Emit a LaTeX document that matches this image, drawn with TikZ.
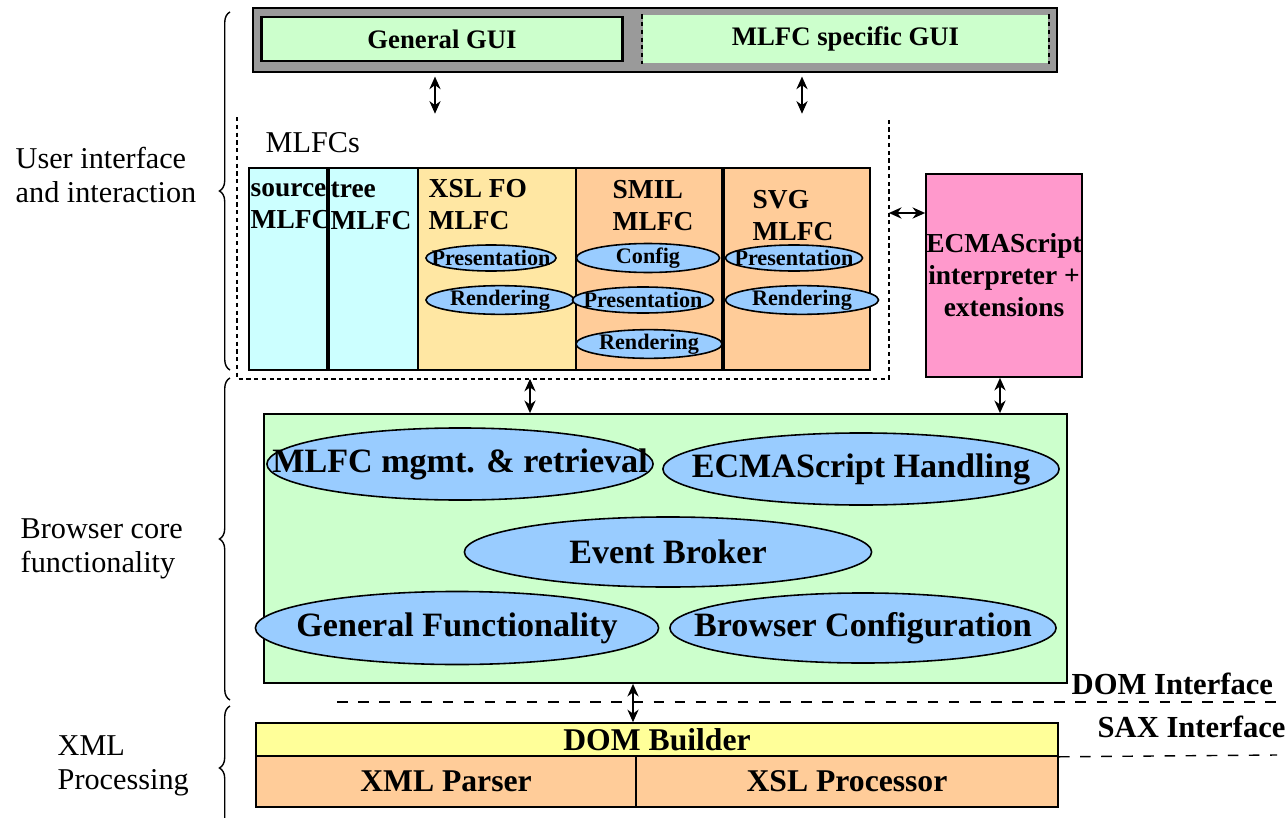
\documentclass[tikz,border=0pt]{standalone}
\usepackage{fontspec}
\setmainfont{Liberation Serif}
\usepackage{xcolor}
\usetikzlibrary{shapes,arrows.meta,decorations.pathreplacing}
\definecolor{guigrey}{HTML}{9A9A9A}
\definecolor{paleg}{HTML}{CCFFCC}
\definecolor{palec}{HTML}{CCFFFF}
\definecolor{paley}{HTML}{FFE7A3}
\definecolor{peach}{HTML}{FFCC99}
\definecolor{pink}{HTML}{FF99CC}
\definecolor{ellblue}{HTML}{99CCFF}
\definecolor{lemon}{HTML}{FFFF99}
\newcommand\guifont{\bfseries\fontsize{7.6}{9}\selectfont}
\newcommand\ttlfont{\bfseries\fontsize{7.8}{9.1}\selectfont}
\newcommand\corefont{\bfseries\fontsize{9.7}{11}\selectfont}
\newcommand\xmlfont{\bfseries\fontsize{9}{10}\selectfont}
\tikzset{blk/.style={rectangle,draw,line width=0.45pt,inner sep=0pt},
  col/.style={blk,minimum height=2.02cm},
  sub/.style={ellipse,draw,line width=0.45pt,fill=ellblue,inner xsep=-2cm,inner ysep=0pt,minimum height=0.26cm,font=\bfseries\fontsize{6.3}{7}\selectfont},
  bigell/.style={ellipse,draw,line width=0.45pt,fill=ellblue,inner xsep=-3cm,inner ysep=0pt,font=\corefont},
  ttl/.style={anchor=west,align=left,inner sep=0pt,font=\ttlfont},
  sidelbl/.style={anchor=west,align=left,inner sep=0pt,font=\fontsize{8.6}{9.8}\selectfont},
  brc/.style={decorate,decoration={brace,amplitude=3pt},line width=0.4pt},
  dots/.style={dash pattern=on 1.2pt off 1pt,line width=0.5pt}}

\begin{document}
\begin{tikzpicture}[x=0.01cm,y=-0.01cm,>={Stealth[length=3.6pt,width=3.2pt]}]
    \useasboundingbox (0,0) rectangle (1287,818);

    \node[blk,fill=guigrey,line width=0.6pt,minimum width=8.04cm,minimum height=0.64cm] (gui) at (655,40) {};
    \node[blk,fill=paleg,line width=0.8pt,minimum width=3.60cm,minimum height=0.44cm,font=\guifont] (ggui) at (442,39) {General GUI};
    \node[rectangle,fill=paleg,minimum width=4.05cm,minimum height=0.44cm,font=\guifont] (sgui) at (845.5,39) {MLFC specific GUI};
    \draw[dots] (sgui.north west) -- (sgui.south west) (sgui.north east) -- (sgui.south east);

    \node[rectangle,inner sep=0pt,minimum width=6.50cm,minimum height=2.60cm] (mlfcs) at (563,248) {};
    \draw[dots] (mlfcs.north west) |- (mlfcs.south east) -- (mlfcs.north east);
    \node[sidelbl] (mlfcl) at (265,143) {MLFCs};

    \node[col,fill=palec,minimum width=0.78cm] (src) at (288,269) {};
    \node[col,fill=palec,minimum width=0.91cm] (tree) at (372.5,269) {};
    \node[col,fill=paley,minimum width=1.58cm] (xslfo) at (497,269) {};
    \node[col,fill=peach,minimum width=1.46cm] (smil) at (649,269) {};
    \node[col,fill=peach,minimum width=1.48cm] (svg) at (796,269) {};
    \draw[line width=1pt] (src.north east) -- (src.south east);
    \draw[line width=1pt] (smil.north east) -- (smil.south east);

    \node[ttl] (srct) at (250,206) {source\\MLFC};
    \node[ttl] (treet) at (330,206) {tree\\MLFC};
    \node[ttl] (xslfot) at (428,205) {XSL FO\\MLFC};
    \node[ttl] (smilt) at (612,206) {SMIL\\MLFC};
    \node[ttl] (svgt) at (752,216) {SVG\\MLFC};

    \node[sub,minimum width=1.30cm] (xp) at (491,258) {Presentation};
    \node[sub,minimum width=1.48cm] (xr) at (500,300) {Rendering};
    \node[sub,minimum width=1.43cm] (sc) at (648,258) {Config};
    \node[sub,minimum width=1.41cm] (sp) at (643,300) {Presentation};
    \node[sub,minimum width=1.46cm] (sr) at (649,344) {Rendering};
    \node[sub,minimum width=1.37cm] (vp) at (794,258) {Presentation};
    \node[sub,minimum width=1.53cm] (vr) at (802,300) {Rendering};

    \node[blk,fill=pink,minimum width=1.56cm,minimum height=2.03cm,align=center,font=\ttlfont] (ecma) at (1004,275.5) {ECMAScript\\interpreter +\\extensions};

    \node[blk,fill=paleg,minimum width=8.03cm,minimum height=2.69cm] (core) at (665.5,548.5) {};
    \node[bigell,minimum width=3.86cm,minimum height=0.72cm] (mgmt) at (460,464) {MLFC mgmt. \& retrieval};
    \node[bigell,minimum width=3.96cm,minimum height=0.72cm] (ecmah) at (861,469) {ECMAScript Handling};
    \node[bigell,minimum width=4.07cm,minimum height=0.70cm] (broker) at (668,552) {Event Broker};
    \node[bigell,minimum width=4.03cm,minimum height=0.73cm] (genf) at (457,628) {General Functionality};
    \node[bigell,minimum width=3.86cm,minimum height=0.70cm] (bconf) at (863,628) {Browser Configuration};

    \node[blk,fill=lemon,minimum width=8.02cm,minimum height=0.33cm,font=\xmlfont] (domb) at (657,739.5) {DOM Builder};
    \node[blk,fill=peach,minimum width=3.80cm,minimum height=0.51cm,font=\xmlfont] (xmlp) at (446,781.5) {XML Parser};
    \node[blk,fill=peach,minimum width=4.22cm,minimum height=0.51cm,font=\xmlfont] (xslp) at (847,781.5) {XSL Processor};

    \node[anchor=west,inner sep=0pt,font=\bfseries\fontsize{8.7}{10}\selectfont] (domi) at (1071,684) {DOM Interface};
    \node[anchor=west,inner sep=0pt,font=\bfseries\fontsize{8.7}{10}\selectfont] (saxi) at (1097,727) {SAX Interface};

    \node[sidelbl] (uil) at (15,175) {User interface\\and interaction};
    \node[sidelbl] (bcl) at (20,549) {Browser core\\functionality};
    \node[sidelbl] (xpl) at (57,766) {XML\\Processing};

    \coordinate (a1) at (435,0);
    \coordinate (a2) at (802,0);
    \coordinate (a3) at (0,213);
    \coordinate (a4) at (530,0);
    \coordinate (a5) at (1000,0);
    \coordinate (a6) at (633,0);
    \coordinate (l1) at (337,702);
    \coordinate (l2) at (1277,702);
    \coordinate (l3) at (1277,755);

    \draw [<->] ([yshift=-1pt]gui.south -| a1) to [] ([yshift=1pt]mlfcs.north -| a1);
    \draw [<->] ([yshift=-1pt]gui.south -| a2) to [] ([yshift=1pt]mlfcs.north -| a2);
    \draw [<->] (mlfcs.east |- a3) to [] (ecma.west |- a3);
    \draw [<->] (mlfcs.south -| a4) to [] (core.north -| a4);
    \draw [<->] (ecma.south -| a5) to [] (core.north -| a5);
    \draw [<->] (core.south -| a6) to [] (domb.north -| a6);
    \draw [dashed] (l1) to [] (l2);
    \draw [dashed] (domb.south east) to [] (l3);

    \draw [brc] (230,370) to [] (230,12);
    \draw [brc] (230,700) to [] (230,378);
    \draw [brc] (230,830) to [] (230,706);
\end{tikzpicture}
\end{document}
